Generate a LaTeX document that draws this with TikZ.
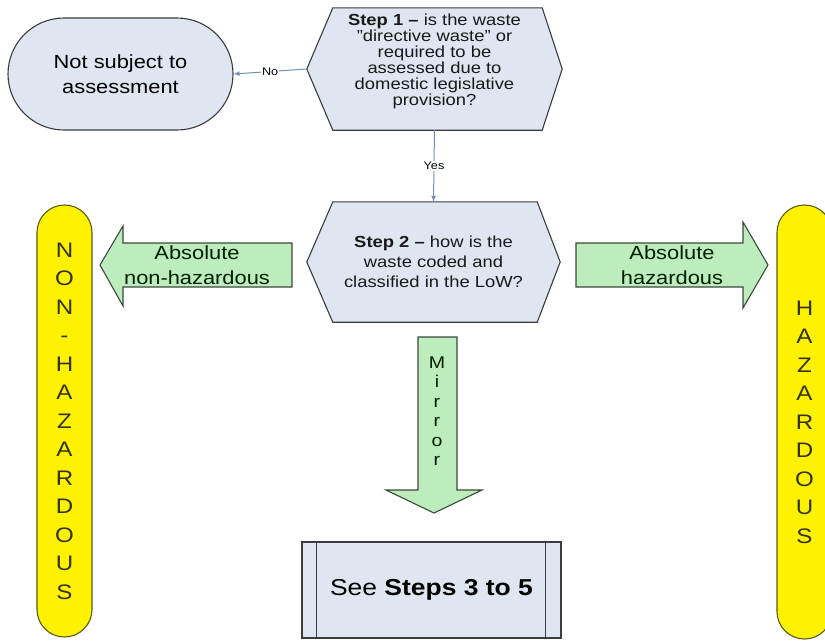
\documentclass[tikz,border=0pt]{standalone}
\usepackage{fontspec}
\setmainfont[FakeStretch=1.15]{Liberation Sans}
\usepackage{xcolor}
\usetikzlibrary{arrows.meta,backgrounds}

\definecolor{boxblue}{HTML}{DFE6F2}
\definecolor{edgegray}{HTML}{3C3C3C}
\definecolor{linkblue}{HTML}{6F8FC0}
\definecolor{arrowgreen}{HTML}{BDEDBD}
\definecolor{arrowedge}{HTML}{3A4A3A}
\definecolor{bartext}{HTML}{333300}
\definecolor{baredge}{HTML}{5A5A10}

\begin{document}
\begin{tikzpicture}[
        x=1pt, y=-1pt,
        term/.style  = {draw=edgegray, fill=boxblue, line width=1.1pt, rounded corners=56pt,
                        minimum width=225pt, minimum height=112pt, align=center,
                        font=\fontsize{19}{25}\selectfont},
        quest/.style = {inner sep=0pt, align=center, text=black!90},
        hexa/.style  = {draw=edgegray, fill=boxblue, line width=1.1pt},
        conn/.style  = {-{Latex[length=6pt,width=5pt]}, draw=linkblue, line width=1pt},
        lbl/.style   = {fill=white, inner sep=1pt, font=\fontsize{11}{12}\selectfont},
        block/.style = {draw=arrowedge, fill=arrowgreen, line width=1.1pt},
        btxt/.style  = {align=center, text=black!80!green!60!black,
                        font=\fontsize{19}{25}\selectfont},
        bar/.style   = {draw=baredge, fill=yellow, line width=1.1pt, rounded corners=27.5pt,
                        minimum width=55pt, align=center, text=bartext,
                        font=\fontsize{21}{28.5}\selectfont},
        proc/.style  = {draw=edgegray, fill=boxblue, line width=1.1pt,
                        minimum width=259pt, minimum height=96pt,
                        font=\fontsize{23}{26}\selectfont}
    ]
        \useasboundingbox (0,0) rectangle (825,641);

        % decision boxes
        \node[term] (notsub) at (120.5,74) {Not subject to\\assessment};
        \node[quest, minimum width=255pt, minimum height=122pt,
              label={[quest, yshift=8pt, font=\fontsize{16}{16}\selectfont]center:%
                \textbf{Step 1 --} is the waste\\\char34 directive waste\char34{} or\\required to be\\assessed due to\\domestic legislative\\provision?}]
            (step1) at (434.5,69) {};
        \node[quest, minimum width=253pt, minimum height=120pt,
              font=\fontsize{16}{20}\selectfont] (step2) at (433.5,262)
            {\textbf{Step 2 --} how is the\\waste coded and\\classified in the LoW?};
        \begin{scope}[on background layer]
            \draw[hexa] (step1.west) -- ([xshift=26pt]step1.north west) -- ([xshift=-20pt]step1.north east)
                -- (step1.east) -- ([xshift=-20pt]step1.south east) -- ([xshift=26pt]step1.south west) -- cycle;
            \draw[hexa] (step2.west) -- ([xshift=26pt]step2.north west) -- ([xshift=-23pt]step2.north east)
                -- (step2.east) -- ([xshift=-23pt]step2.south east) -- ([xshift=26pt]step2.south west) -- cycle;
        \end{scope}

        \draw[conn] (step1.west) -- node[lbl]{No} (notsub.east);
        \draw[conn] (step1.south) -- node[lbl]{Yes} (step2.north);

        % result bars
        \node[bar, minimum height=432pt] (nonhaz) at (64.5,421)
            {N\\O\\N\\-\\H\\A\\Z\\A\\R\\D\\O\\U\\S};
        \node[bar, minimum height=434pt] (haz) at (804.5,422)
            {H\\A\\Z\\A\\R\\D\\O\\U\\S};

        % block arrows
        \draw[block] (292,243) -- (123,243) -- (123,226) -- (100,265) -- (123,306) -- (123,287) -- (292,287) -- cycle;
        \node[btxt] (absnon) at (197,265) {Absolute\\non-hazardous};
        \draw[block] (576,243) -- (743,243) -- (743,222) -- (768,265) -- (743,308) -- (743,287) -- (576,287) -- cycle;
        \node[btxt] (abshaz) at (672,265) {Absolute\\hazardous};
        \draw[block] (418,337) -- (457,337) -- (457,490) -- (482,490) -- (434,513) -- (386,490) -- (418,490) -- cycle;
        \node[btxt, font=\fontsize{17}{19.5}\selectfont] (mirror) at (437,411) {M\\i\\r\\r\\o\\r};

        % next steps
        \node[proc] (steps) at (431.5,590) {See \textbf{Steps 3 to 5}};
        \draw[edgegray, line width=1.1pt] ([xshift=15pt]steps.north west) -- ([xshift=15pt]steps.south west);
        \draw[edgegray, line width=1.1pt] ([xshift=-16pt]steps.north east) -- ([xshift=-16pt]steps.south east);
    \end{tikzpicture}
\end{document}
